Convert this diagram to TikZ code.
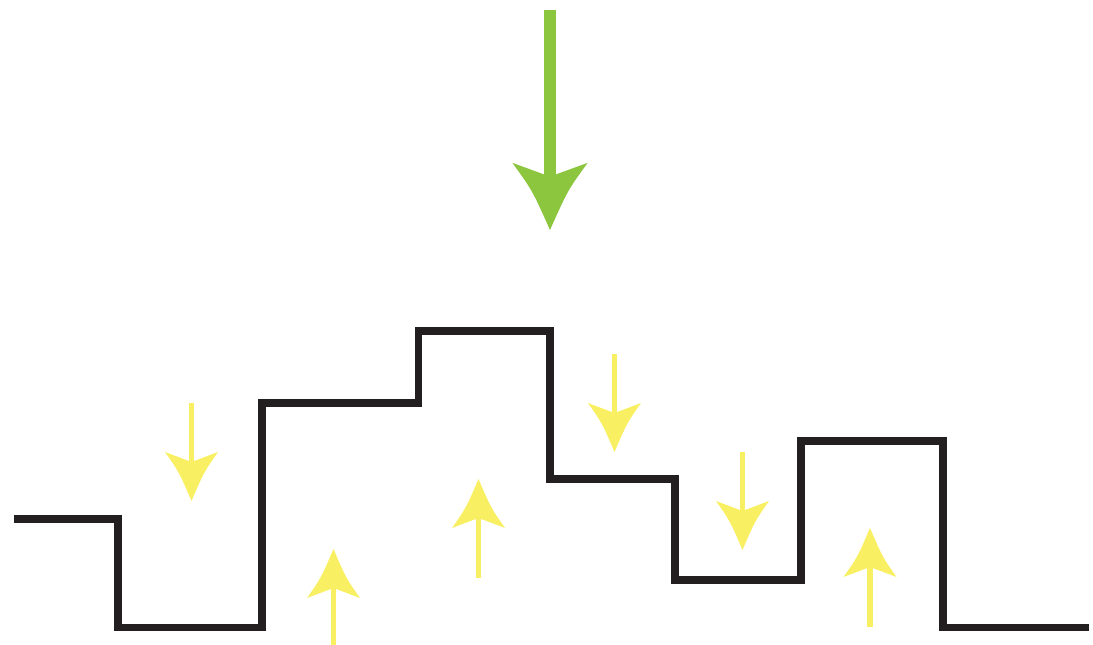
\documentclass[tikz,border=0pt]{standalone}
\usetikzlibrary{calc}
\definecolor{leaf}{HTML}{8CC63F}
\definecolor{sun}{HTML}{F8F062}
\definecolor{ink}{HTML}{231F20}
\begin{document}
\begin{tikzpicture}[x=1pt,y=-1pt,
  skyline/.style={draw=ink,line width=7.5pt,line join=miter,line cap=butt},
  ray/.style={draw=sun,line width=5.5pt},
  beam/.style={draw=leaf,line width=11.5pt},
  % dart head pointing down, origin at the tip
  pics/dart/.style={code={
    \fill (0,0) .. controls (-12.5,-29) .. (-26.5,-49) -- (0,-39)
      -- (26.5,-49) .. controls (12.5,-29) .. cycle;}}
]
\useasboundingbox (0,0) rectangle (1093,645);

% stepped outline
\draw[skyline] (14,519) -- (118,519) -- (118,627.5) -- (262,627.5)
  -- (262,403) -- (418.5,403) -- (418.5,331) -- (550,331) -- (550,479)
  -- (675,479) -- (675,580) -- (801,580) -- (801,441) -- (943,441)
  -- (943,627.5) -- (1089,627.5);

% large green arrow
\coordinate (gS) at (550,10);
\coordinate (gN) at (550,180);
\coordinate (gT) at (550,230);
\draw[beam] (gS) -- (gN);
\pic[color=leaf,xscale=1.42,yscale=1.37] at (gT) {dart};

% yellow arrows: start of shaft, neck, tip
\foreach \n/\x/\s/\t/\d in {a/191.5/403/501/1, b/333.5/645/549/-1,
    c/478.5/578/479/-1, d/614.5/354/452/1, e/742.5/452/550/1, f/870/627/528/-1}{
  \coordinate (\n S) at (\x,\s);
  \coordinate (\n N) at (\x,\t-\d*36);
  \coordinate (\n T) at (\x,\t);
  \draw[ray] (\n S) -- (\n N);
  \ifnum\d=1
    \pic[color=sun] at (\n T) {dart};
  \else
    \pic[color=sun,rotate=180] at (\n T) {dart};
  \fi
}
\end{tikzpicture}
\end{document}
